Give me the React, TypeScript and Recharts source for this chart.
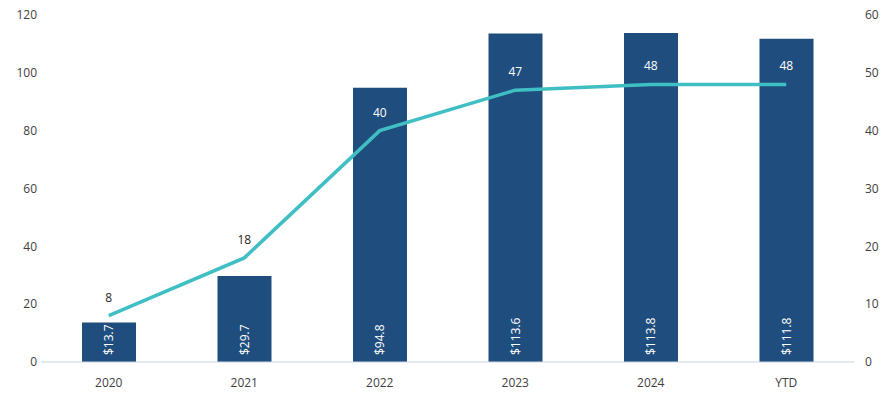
import React from 'react';
import { ComposedChart, Bar, Line, XAxis, YAxis, LabelList } from 'recharts';

const years = ['2020', '2021', '2022', '2023', '2024', 'YTD'];
const amounts = [13.7, 29.7, 94.8, 113.6, 113.8, 111.8];
const counts = [8, 18, 40, 47, 48, 48];
const leftTicks = [0, 20, 40, 60, 80, 100, 120];
const rightTicks = [0, 10, 20, 30, 40, 50, 60];

const data = years.map((y, i) => ({ year: y, amount: amounts[i], count: counts[i] }));

const font = "'Open Sans', sans-serif";

const BarLabel = (props: any) => {
  const { x, y, width, height, value } = props;
  const cx = x + width / 2 + 4;
  const by = y + height - 7;
  return (
    <text x={cx} y={by} transform={`rotate(-90 ${cx} ${by})`} fill="#fff" fontSize={12} fontFamily={font} textAnchor="start">
      ${value.toFixed(1)}
    </text>
  );
};

const LineLabel = (props: any) => {
  const { x, y, value, index } = props;
  return (
    <text x={x} y={y - 14} fill={index < 2 ? '#262626' : '#fff'} fontSize={12} fontFamily={font} textAnchor="middle">
      {value}
    </text>
  );
};

export default function App() {
  return (
    <div style={{ position: 'absolute', left: 0, top: 0, background: '#fff' }}>
      <ComposedChart width={889} height={397} data={data} margin={{ top: 15, right: 0, left: 0, bottom: 0 }}>
        <XAxis dataKey="year" height={35} axisLine={{ stroke: '#c9d3e3' }} tickLine={false} tickMargin={10}
          tick={{ fill: '#404040', fontSize: 12, fontFamily: font }} />
        <YAxis yAxisId="l" domain={[0, 120]} ticks={leftTicks} width={41} axisLine={false} tickLine={false}
          tickSize={0} tickMargin={4} tick={{ fill: '#404040', fontSize: 12, fontFamily: font }} />
        <YAxis yAxisId="r" orientation="right" domain={[0, 60]} ticks={rightTicks} width={35} axisLine={false}
          tickLine={false} tickSize={0} tickMargin={11} tick={{ fill: '#404040', fontSize: 12, fontFamily: font, textAnchor: 'start' }} />
        <Bar yAxisId="l" dataKey="amount" fill="#1f4e7e" barSize={54} isAnimationActive={false}>
          <LabelList dataKey="amount" content={BarLabel} />
        </Bar>
        <Line yAxisId="r" dataKey="count" type="linear" stroke="#3fbfc4" strokeWidth={3.5} dot={false} isAnimationActive={false}>
          <LabelList dataKey="count" content={LineLabel} />
        </Line>
      </ComposedChart>
    </div>
  );
}
